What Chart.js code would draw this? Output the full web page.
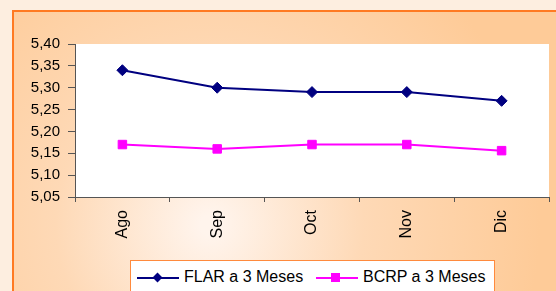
<!DOCTYPE html>
<html>
<head>
<meta charset="utf-8">
<script src="https://cdn.jsdelivr.net/npm/chart.js@4/dist/chart.umd.min.js"></script>
<style>
  html, body { margin: 0; padding: 0; background: #fdeee0; }
  #wrap { position: relative; width: 556px; height: 291px; overflow: hidden; }
  #legend {
    position: absolute; left: 130px; top: 260px; width: 363px; height: 40px;
    background: #fff; border: 1px solid #ff8a3d;
    font: 16px "Liberation Sans", Arial, sans-serif; color: #000;
  }
  .ln { position: absolute; top: 16px; width: 42px; height: 2px; }
  .mk { position: absolute; }
  .txt { position: absolute; top: 7px; line-height: 18px; white-space: nowrap; }
</style>
</head>
<body>
<div id="wrap">
  <canvas id="chart" width="556" height="291"></canvas>
  <div id="legend">
    <span class="ln" style="left:6px;background:#000080"></span>
    <span class="mk" style="left:23px;top:13px;width:7px;height:7px;background:#000080;transform:rotate(45deg)"></span>
    <span class="txt" style="left:53px">FLAR a 3 Meses</span>
    <span class="ln" style="left:185px;background:#ff00ff"></span>
    <span class="mk" style="left:200px;top:12px;width:9px;height:9px;background:#ff00ff"></span>
    <span class="txt" style="left:232px">BCRP a 3 Meses</span>
  </div>
</div>
<script>
  'use strict'

  // Datos
  var meses = ['Ago', 'Sep', 'Oct', 'Nov', 'Dic']
  var flar = [5.34, 5.30, 5.29, 5.29, 5.27]
  var bcrp = [5.17, 5.16, 5.17, 5.17, 5.156]
  var yMin = 5.05
  var yMax = 5.40
  var yStep = 0.05

  var font = '"Liberation Sans", Arial, sans-serif'

  // Fondo: marco naranja con degradado y área de trazado blanca
  var fondo = {
    id: 'fondo',
    beforeDraw: function (chart) {
      var ctx = chart.ctx
      var a = chart.chartArea
      ctx.save()
      ctx.fillStyle = '#fdeee0'
      ctx.fillRect(0, 0, chart.width, chart.height)
      var g = ctx.createRadialGradient(210, 225, 10, 210, 225, 330)
      g.addColorStop(0, '#fff4ec')
      g.addColorStop(0.45, '#fed9b6')
      g.addColorStop(1, '#fecb98')
      ctx.fillStyle = g
      ctx.fillRect(12, 10, chart.width - 12, chart.height - 10)
      ctx.fillStyle = '#ff7a22'
      ctx.fillRect(12, 10, chart.width - 12, 2)
      ctx.fillRect(12, 10, 2, chart.height - 10)
      ctx.fillStyle = '#ffffff'
      ctx.fillRect(a.left, a.top, a.right - a.left, a.bottom - a.top)
      ctx.restore()
    }
  }

  var ctx = document.getElementById('chart').getContext('2d')

  var chart = new Chart(ctx, {
    type: 'line',
    data: {
      labels: meses,
      datasets: [
        {
          label: 'FLAR a 3 Meses',
          data: flar,
          borderColor: '#000080',
          backgroundColor: '#000080',
          borderWidth: 2,
          pointStyle: 'rectRot',
          pointRadius: 5.5,
          pointBorderWidth: 1,
          tension: 0
        },
        {
          label: 'BCRP a 3 Meses',
          data: bcrp,
          borderColor: '#ff00ff',
          backgroundColor: '#ff00ff',
          borderWidth: 2,
          pointStyle: 'rect',
          pointRadius: 6,
          pointBorderWidth: 1,
          tension: 0
        }
      ]
    },
    options: {
      responsive: false,
      animation: false,
      layout: { padding: { left: 0, right: 4, top: 44, bottom: 0 } },
      plugins: {
        legend: { display: false },
        tooltip: { enabled: false }
      },
      scales: {
        x: {
          offset: true,
          afterFit: function (s) { s.height = 94 },
          border: { color: '#555', width: 1 },
          grid: { offset: true, drawOnChartArea: false, tickLength: 5, color: '#555' },
          ticks: {
            color: '#000',
            font: { family: font, size: 16 },
            maxRotation: 90,
            minRotation: 90,
            padding: 8
          }
        },
        y: {
          min: yMin,
          max: yMax,
          afterFit: function (s) { s.width = 75 },
          border: { color: '#555', width: 1 },
          grid: { drawOnChartArea: false, tickLength: 7, color: '#555' },
          ticks: {
            stepSize: yStep,
            color: '#000',
            font: { family: font, size: 15 },
            padding: 8,
            callback: function (v) { return v.toFixed(2).replace('.', ',') }
          }
        }
      }
    },
    plugins: [fondo]
  })
</script>
</body>
</html>
